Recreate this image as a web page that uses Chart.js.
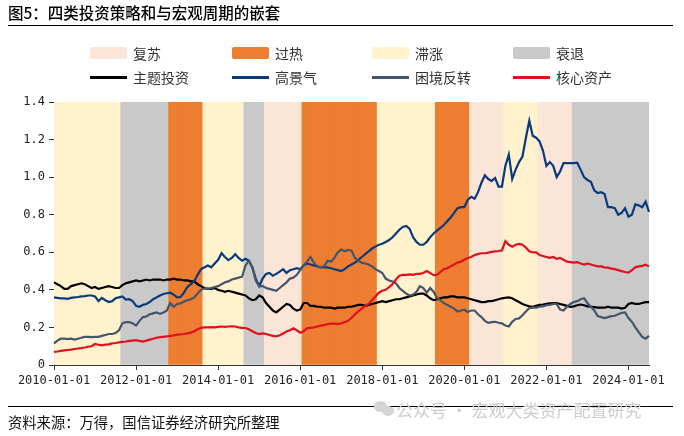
<!DOCTYPE html>
<html>
<head>
<meta charset="utf-8">
<script src="https://cdn.jsdelivr.net/npm/chart.js@4.4.1/dist/chart.umd.min.js"></script>
<style>
  body { margin: 0; background: #fff; }
  #wrap { position: relative; width: 684px; height: 436px; overflow: hidden; font-family: "Noto Sans CJK SC", sans-serif; }
  #chart { position: absolute; left: 0; top: 0; }
  #title { position: absolute; left: 8px; top: 1px; font-size: 15.5px; font-weight: 500; color: #000; white-space: nowrap; }
  .rule { position: absolute; left: 8px; width: 665px; height: 1px; background: #000; }
  .item { position: absolute; height: 20px; display: flex; align-items: center; font-size: 14px; color: #333; white-space: nowrap; }
  .item span.sw { display: inline-block; width: 37px; margin-right: 6px; }
  #source { position: absolute; left: 8px; top: 411px; font-size: 14.3px; color: #111; white-space: nowrap; }
  #mark { position: absolute; left: 396px; top: 397px; font-size: 17px; color: #cdcdcd; white-space: nowrap; }
  #icon { position: absolute; left: 374px; top: 401px; width: 20px; height: 16px; }
  #icon i { position: absolute; border-radius: 50%; background: #d4d4d4; }
</style>
</head>
<body>
<div id="wrap">
  <canvas id="chart" width="684" height="436"></canvas>
  <div id="title">图5：四类投资策略和与宏观周期的嵌套</div>
  <div class="rule" style="top:25px"></div>
  <div id="legend"></div>
  <div class="rule" style="top:406px"></div>
  <div id="icon"><i style="left:0;top:0;width:13px;height:11px"></i><i style="left:8px;top:5px;width:12px;height:10px"></i></div>
  <div id="mark">公众号 · 宏观大类资产配置研究</div>
  <div id="source">资料来源：万得，国信证券经济研究所整理</div>
</div>
<script>
// ---------------- DATA ----------------

// monthly points, 2010-01 .. 2024-07
const firstYear = 2010;
const lastMonth = "2024-07-01";

const seriesNames = ["主题投资", "高景气", "困境反转", "核心资产"];
const seriesColors = ["#000000", "#0b3a7c", "#44546a", "#e0101e"];

const themeInvest = [
  0.44,0.43,0.42,0.405,0.405,0.42,0.425,0.43,0.435,0.43,
  0.42,0.41,0.415,0.405,0.41,0.415,0.42,0.415,0.41,0.41,
  0.425,0.435,0.44,0.445,0.45,0.445,0.45,0.455,0.45,0.455,
  0.455,0.455,0.45,0.455,0.455,0.46,0.455,0.455,0.45,0.45,
  0.445,0.445,0.43,0.42,0.41,0.405,0.405,0.41,0.40,0.395,
  0.39,0.395,0.39,0.385,0.38,0.375,0.37,0.355,0.345,0.35,
  0.37,0.36,0.33,0.31,0.29,0.28,0.295,0.31,0.325,0.32,
  0.30,0.29,0.295,0.33,0.33,0.315,0.315,0.31,0.31,0.305,
  0.305,0.305,0.30,0.305,0.305,0.305,0.31,0.31,0.315,0.32,
  0.32,0.315,0.32,0.325,0.33,0.335,0.34,0.335,0.34,0.345,
  0.35,0.35,0.355,0.36,0.365,0.37,0.375,0.38,0.38,0.37,
  0.355,0.345,0.35,0.355,0.36,0.36,0.365,0.365,0.36,0.36,
  0.36,0.355,0.35,0.345,0.34,0.335,0.335,0.34,0.34,0.345,
  0.35,0.355,0.358,0.36,0.355,0.345,0.335,0.325,0.318,0.312,
  0.31,0.315,0.32,0.322,0.325,0.328,0.33,0.33,0.325,0.32,
  0.315,0.31,0.312,0.318,0.322,0.318,0.312,0.31,0.308,0.305,
  0.305,0.305,0.31,0.305,0.305,0.305,0.30,0.305,0.325,0.33,
  0.325,0.325,0.33,0.335,0.335
];

const highBoom = [
  0.36,0.357,0.355,0.355,0.352,0.357,0.36,0.362,0.365,0.367,
  0.37,0.37,0.365,0.34,0.357,0.345,0.335,0.34,0.355,0.36,
  0.365,0.348,0.35,0.34,0.315,0.31,0.32,0.325,0.335,0.35,
  0.36,0.37,0.378,0.382,0.385,0.375,0.36,0.362,0.385,0.415,
  0.43,0.445,0.48,0.51,0.52,0.53,0.52,0.54,0.56,0.595,
  0.575,0.558,0.57,0.59,0.57,0.555,0.565,0.555,0.52,0.46,
  0.42,0.46,0.485,0.49,0.475,0.485,0.497,0.51,0.49,0.505,
  0.51,0.515,0.51,0.53,0.54,0.535,0.53,0.525,0.52,0.52,
  0.52,0.515,0.51,0.505,0.50,0.51,0.525,0.535,0.545,0.56,
  0.575,0.59,0.605,0.62,0.63,0.64,0.645,0.655,0.665,0.68,
  0.70,0.72,0.735,0.74,0.725,0.68,0.655,0.64,0.64,0.655,
  0.68,0.70,0.715,0.73,0.745,0.765,0.785,0.81,0.835,0.84,
  0.84,0.88,0.895,0.885,0.92,0.97,1.01,0.99,0.98,0.995,
  0.95,0.95,1.06,1.12,0.99,1.04,1.08,1.11,1.21,1.30,
  1.22,1.21,1.19,1.14,1.06,1.08,1.06,1.00,1.03,1.075,
  1.075,1.075,1.075,1.077,1.04,1.00,0.985,0.975,0.93,0.915,
  0.92,0.91,0.84,0.84,0.835,0.80,0.81,0.835,0.79,0.80,
  0.855,0.85,0.84,0.87,0.815
];

const turnaround = [
  0.115,0.13,0.14,0.14,0.138,0.14,0.135,0.14,0.145,0.15,
  0.15,0.148,0.15,0.15,0.155,0.16,0.165,0.165,0.17,0.185,
  0.222,0.228,0.228,0.222,0.21,0.235,0.255,0.258,0.27,0.275,
  0.28,0.272,0.28,0.29,0.33,0.31,0.325,0.328,0.338,0.345,
  0.35,0.36,0.38,0.40,0.408,0.405,0.41,0.415,0.42,0.43,
  0.44,0.445,0.455,0.46,0.465,0.47,0.53,0.555,0.52,0.45,
  0.42,0.42,0.41,0.405,0.40,0.395,0.41,0.425,0.44,0.46,
  0.465,0.48,0.505,0.53,0.55,0.575,0.545,0.525,0.52,0.525,
  0.555,0.55,0.57,0.60,0.615,0.605,0.612,0.61,0.57,0.555,
  0.545,0.54,0.535,0.525,0.51,0.50,0.49,0.46,0.45,0.445,
  0.435,0.41,0.395,0.38,0.37,0.375,0.39,0.42,0.41,0.385,
  0.41,0.39,0.357,0.345,0.33,0.32,0.31,0.30,0.285,0.29,
  0.294,0.282,0.29,0.29,0.27,0.255,0.235,0.224,0.228,0.23,
  0.225,0.222,0.21,0.205,0.23,0.245,0.248,0.265,0.285,0.303,
  0.305,0.305,0.31,0.312,0.318,0.32,0.325,0.325,0.295,0.29,
  0.31,0.325,0.335,0.34,0.35,0.355,0.33,0.31,0.29,0.26,
  0.255,0.25,0.255,0.26,0.262,0.27,0.278,0.28,0.25,0.23,
  0.20,0.175,0.15,0.14,0.155
];

const coreAssets = [
  0.07,0.072,0.075,0.078,0.08,0.082,0.085,0.088,0.09,0.093,
  0.097,0.10,0.112,0.108,0.105,0.108,0.11,0.115,0.117,0.12,
  0.123,0.125,0.128,0.13,0.132,0.128,0.125,0.13,0.135,0.14,
  0.145,0.148,0.15,0.152,0.155,0.158,0.162,0.163,0.165,0.168,
  0.172,0.18,0.19,0.198,0.20,0.20,0.202,0.20,0.203,0.205,
  0.203,0.205,0.206,0.205,0.20,0.198,0.197,0.19,0.18,0.17,
  0.165,0.168,0.165,0.16,0.155,0.152,0.158,0.168,0.178,0.185,
  0.195,0.185,0.172,0.18,0.195,0.198,0.20,0.205,0.21,0.212,
  0.218,0.22,0.22,0.218,0.222,0.228,0.235,0.25,0.27,0.285,
  0.30,0.315,0.325,0.345,0.365,0.385,0.395,0.40,0.415,0.43,
  0.455,0.475,0.48,0.48,0.482,0.48,0.485,0.485,0.49,0.50,
  0.49,0.478,0.48,0.495,0.51,0.515,0.525,0.535,0.545,0.55,
  0.56,0.57,0.575,0.585,0.59,0.595,0.595,0.598,0.602,0.605,
  0.607,0.61,0.66,0.64,0.63,0.64,0.645,0.64,0.625,0.605,
  0.60,0.60,0.585,0.58,0.575,0.57,0.575,0.565,0.57,0.56,
  0.55,0.548,0.545,0.548,0.54,0.535,0.54,0.535,0.53,0.525,
  0.525,0.52,0.518,0.513,0.51,0.505,0.50,0.495,0.492,0.505,
  0.52,0.525,0.528,0.534,0.525
];

// macro cycle phases: first month of each phase
const phaseStarts = ["2010-01-01","2011-09-01","2012-11-01","2013-09-01","2014-09-01","2015-03-01",
  "2016-02-01","2017-12-01","2019-05-01","2020-03-01","2021-01-01","2021-11-01","2022-09-01"];
const phaseOf = ["滞涨","衰退","过热","滞涨","衰退","复苏","过热","滞涨","过热","复苏","滞涨","复苏","衰退"];

const phaseNames = ["复苏", "过热", "滞涨", "衰退"];
const phaseColors = ["#fbe5d7", "#ed7d31", "#fff2cc", "#c9c9c9"];

const yMin = 0, yMax = 1.4, yStep = 0.2;

// ---------------- BUILD ----------------

let months = [];
for (let y = firstYear; ; y++) {
  let done = false;
  for (let m = 1; m <= 12; m++) {
    let lab = y + "-" + String(m).padStart(2, "0") + "-01";
    months.push(lab);
    if (lab === lastMonth) { done = true; break; }
  }
  if (done) break;
}

function phaseForMonth(lab) {
  let p = phaseOf[0];
  phaseStarts.forEach((s, k) => { if (lab >= s) p = phaseOf[k]; });
  return p;
}

let bandColors = months.map(lab => phaseColors[phaseNames.indexOf(phaseForMonth(lab))]);

function isShownTick(lab) {
  return lab.slice(5, 7) === "01" && Number(lab.slice(0, 4)) % 2 === 0;
}

const values = [themeInvest, highBoom, turnaround, coreAssets];

let datasets = values.map((arr, k) => ({
  type: "line",
  label: seriesNames[k],
  data: arr,
  borderColor: seriesColors[k],
  borderWidth: 2.2,
  pointRadius: 0,
  tension: 0,
  fill: false,
  order: 4 - k
}));

datasets.push({
  type: "bar",
  label: "phase",
  data: months.map(() => yMax),
  backgroundColor: bandColors,
  borderWidth: 0,
  barPercentage: 1,
  categoryPercentage: 1,
  order: 10
});

// legend (html, 4 x 2 grid)
const legendCols = [90, 232, 372, 513];
let legend = document.getElementById("legend");
phaseNames.forEach((n, k) => {
  let d = document.createElement("div");
  d.className = "item";
  d.style.left = legendCols[k] + "px";
  d.style.top = "43px";
  d.innerHTML = `<span class="sw" style="height:12px;border-radius:2px;background:${phaseColors[k]}"></span>${n}`;
  legend.appendChild(d);
});
seriesNames.forEach((n, k) => {
  let d = document.createElement("div");
  d.className = "item";
  d.style.left = legendCols[k] + "px";
  d.style.top = "67px";
  d.innerHTML = `<span class="sw" style="height:3px;background:${seriesColors[k]}"></span>${n}`;
  legend.appendChild(d);
});

// ---------------- CHART ----------------

const tickFont = { family: "'DejaVu Sans Mono', monospace", size: 12 };

let ctx = document.getElementById("chart").getContext("2d");

new Chart(ctx, {
  type: "line",
  data: { labels: months, datasets: datasets },
  options: {
    responsive: false,
    animation: false,
    layout: { padding: { left: 10, right: 35, top: 102, bottom: 41 } },
    plugins: { legend: { display: false }, tooltip: { enabled: false } },
    scales: {
      x: {
        offset: false,
        grid: {
          offset: false,
          drawOnChartArea: false,
          tickLength: 5,
          color: c => (c.tick && isShownTick(months[c.index])) ? "#333" : "rgba(0,0,0,0)"
        },
        border: { color: "#333", width: 1 },
        ticks: {
          autoSkip: false,
          maxRotation: 0,
          minRotation: 0,
          padding: 4,
          color: "#222",
          font: tickFont,
          callback: function (value) {
            let lab = this.getLabelForValue(value);
            return isShownTick(lab) ? lab : "";
          }
        },
        afterFit: s => { s.height = 30; }
      },
      y: {
        min: yMin,
        max: yMax,
        ticks: { stepSize: yStep, padding: 4, color: "#222", font: tickFont },
        grid: { drawOnChartArea: false, tickLength: 5, color: "#333" },
        border: { color: "#333", width: 1 },
        afterFit: s => { s.width = 44; }
      }
    }
  }
});
</script>
</body>
</html>
